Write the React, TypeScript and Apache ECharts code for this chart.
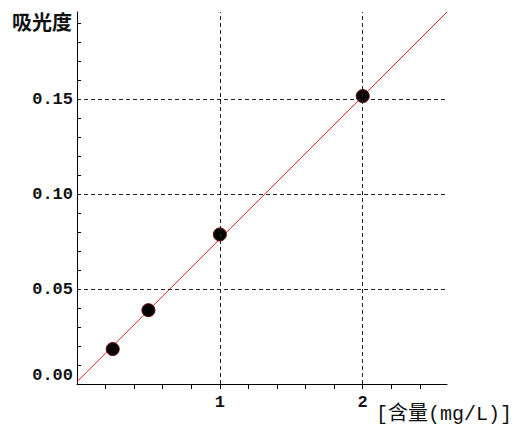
import React, { useEffect, useRef } from "react";
import * as echarts from "echarts";

// Measured points: content (mg/L) vs absorbance
const contentX = [0.25, 0.5, 1, 2];
const absorbanceY = [0.0184, 0.0389, 0.0788, 0.1517];

// Fitted regression line endpoints
const fitX = [0, 2.59];
const fitY = [0.0012, 0.196];

// Axis ticks and labels
const xTicks = [0.2, 0.4, 0.6, 0.8, 1, 1.2, 1.4, 1.6, 1.8, 2, 2.2, 2.4];
const xLabels = [1, 2];
const yTicks = [0, 0.01, 0.02, 0.03, 0.04, 0.05, 0.06, 0.07, 0.08, 0.09, 0.1, 0.11, 0.12, 0.13, 0.14, 0.15, 0.16, 0.17, 0.18, 0.19];
const yLabels = [0, 0.05, 0.1, 0.15];

// Dashed grid lines
const xGrid = [1, 2];
const yGrid = [0.05, 0.1, 0.15];

const xName = "[含量(mg/L)]";
const yName = "吸光度";

export default function App() {
  const ref = useRef<HTMLDivElement>(null);
  useEffect(() => {
    if (!ref.current) return;
    const chart = echarts.init(ref.current, null, { renderer: "svg" });
    const labelFont = {
      fontFamily: "'Liberation Mono', monospace",
      fontWeight: "bold" as const,
      fontSize: 17,
      color: "#111",
    };
    chart.setOption({
      animation: false,
      backgroundColor: "#fff",
      grid: { left: 77, top: 12, width: 370, height: 372, containLabel: false },
      xAxis: {
        type: "value",
        min: 0,
        max: 2.59,
        name: xName,
        nameLocation: "end",
        nameGap: -71,
        nameTextStyle: {
          fontFamily: "'Liberation Mono', 'Noto Sans CJK SC'",
          fontSize: 20,
          color: "#111",
          align: "left",
          verticalAlign: "top",
          padding: [21, 0, 0, 0],
        },
        axisLine: { show: true, onZero: false, lineStyle: { color: "#000", width: 1 } },
        axisTick: { show: true, inside: false, length: 5, customValues: xTicks, lineStyle: { color: "#000" } },
        axisLabel: {
          ...labelFont,
          margin: 10,
          customValues: xLabels,
          formatter: (v: number) => String(v),
        },
        splitLine: { show: false },
      },
      yAxis: {
        type: "value",
        min: 0,
        max: 0.196,
        name: yName,
        nameLocation: "end",
        nameGap: -9,
        nameTextStyle: {
          fontFamily: "'Noto Sans CJK SC'",
          fontWeight: "bold",
          fontSize: 20,
          color: "#111",
          align: "right",
          verticalAlign: "middle",
          padding: [0, 5, 0, 0],
        },
        axisLine: { show: true, onZero: false, lineStyle: { color: "#000", width: 1 } },
        axisTick: { show: true, inside: true, length: 4, customValues: yTicks, lineStyle: { color: "#000" } },
        axisLabel: {
          ...labelFont,
          margin: 4,
          customValues: yLabels,
          verticalAlignMinLabel: "bottom",
          formatter: (v: number) => v.toFixed(2),
        },
        splitLine: { show: false },
      },
      series: [
        {
          type: "line",
          data: fitX.map((x, i) => [x, fitY[i]]),
          showSymbol: false,
          symbol: "none",
          lineStyle: { color: "#d42222", width: 1 },
          silent: true,
          z: 2,
          markLine: {
            silent: true,
            symbol: "none",
            label: { show: false },
            lineStyle: { color: "#222", type: [4, 3], width: 1 },
            data: [
              ...yGrid.map((v) => ({ yAxis: v })),
              ...xGrid.map((v) => ({ xAxis: v })),
            ],
          },
        },
        {
          type: "scatter",
          data: contentX.map((x, i) => [x, absorbanceY[i]]),
          symbol: "circle",
          symbolSize: 13,
          itemStyle: { color: "#000", borderColor: "#6a0000", borderWidth: 1, opacity: 1 },
          z: 3,
        },
      ],
    });
    return () => chart.dispose();
  }, []);
  return (
    <div
      ref={ref}
      style={{ position: "fixed", left: 0, top: 0, width: 520, height: 430, background: "#fff" }}
    />
  );
}
